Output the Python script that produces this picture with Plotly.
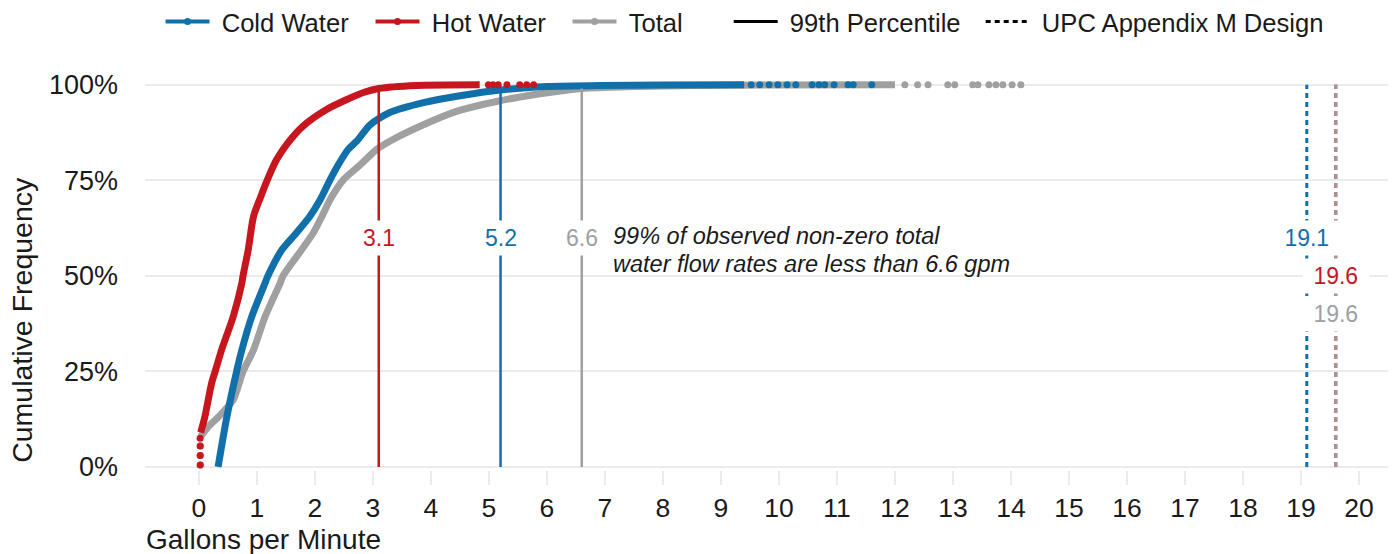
import plotly.graph_objects as go

# ---------------- data ----------------
hot_x = [0.03, 0.10, 0.22, 0.28, 0.39, 0.59, 0.74, 0.76, 0.85, 0.94, 1.06, 1.19, 1.34, 1.53,
         1.79, 2.20, 2.55, 2.85, 3.10, 3.75, 4.84]
hot_y = [0.09, 0.13, 0.22, 0.25, 0.306, 0.393, 0.481, 0.50, 0.568, 0.655, 0.705, 0.755, 0.804,
         0.847, 0.891, 0.935, 0.961, 0.980, 0.990, 0.998, 1.0]
hot_start_x = [0.02, 0.02, 0.02, 0.02]
hot_start_y = [0.005, 0.03, 0.055, 0.075]
hot_tail_x = [4.99, 5.07, 5.16, 5.31, 5.53, 5.65, 5.77]

cold_x = [0.33, 0.48, 0.65, 0.74, 0.91, 1.14, 1.19, 1.43, 1.68, 1.91, 2.09, 2.26, 2.40, 2.57,
          2.72, 2.95, 3.29, 3.87, 4.50, 5.20, 6.00, 6.91, 8.0, 9.4]
cold_y = [0.0, 0.13, 0.25, 0.306, 0.393, 0.481, 0.50, 0.568, 0.612, 0.655, 0.699, 0.751, 0.79,
          0.83, 0.852, 0.895, 0.927, 0.953, 0.971, 0.986, 0.995, 0.998, 0.999, 1.0]
cold_tail_x = [9.52, 9.67, 9.83, 9.98, 10.14, 10.29, 10.57, 10.69, 10.79, 10.95, 11.19, 11.28, 11.6]

total_x = [0.03, 0.16, 0.33, 0.59, 0.76, 0.94, 1.14, 1.40, 1.45, 1.77, 1.97, 2.12, 2.26, 2.49,
           2.78, 3.06, 3.29, 3.87, 4.44, 5.13, 5.88, 6.6, 7.5, 8.5, 10.0, 12.0]
total_y = [0.08, 0.105, 0.13, 0.175, 0.25, 0.306, 0.393, 0.481, 0.50, 0.568, 0.612, 0.655, 0.699,
           0.751, 0.79, 0.83, 0.852, 0.895, 0.930, 0.956, 0.976, 0.99, 0.995, 0.998, 0.999, 1.0]
total_start_x = [0.03, 0.03, 0.03]
total_start_y = [0.005, 0.03, 0.055]
total_tail_x = [12.17, 12.39, 12.57, 12.91, 13.03, 13.34, 13.43, 13.62, 13.74, 13.86, 14.02, 14.17]

series_names = ["Cold Water", "Hot Water", "Total"]
pct99 = {"Cold Water": 5.2, "Hot Water": 3.1, "Total": 6.6}
upc_design = {"Cold Water": 19.1, "Hot Water": 19.6, "Total": 19.6}
pct_level = 0.99
pct_label_y = 0.6
upc_label_y = {"Cold Water": 0.6, "Hot Water": 0.5, "Total": 0.4}
note_lines = ["99% of observed non-zero total", "water flow rates are less than 6.6 gpm"]
note_x = 7.12
note_y = [0.604, 0.530]

x_ticks = list(range(0, 21))
y_ticks = [0, 0.25, 0.5, 0.75, 1.0]
y_ticklabels = ["0%", "25%", "50%", "75%", "100%"]

# ---------------- styles ----------------
COL = {"Cold Water": "#1170AA", "Hot Water": "#C8161E", "Total": "#A0A0A0"}
FONT = "Liberation Sans, Arial, sans-serif"
GRID = "#EBEBEB"
TXT = "#1A1A1A"
CURVE_W = 7
DOT = 7
LEG_W = {"Cold Water": 151, "Hot Water": 138, "Total": 80,
         "99th Percentile": 193, "UPC Appendix M Design": 295}

fig = go.Figure()

def curve(x, y, color):
    fig.add_trace(go.Scatter(x=x, y=y, mode="lines",
                             line=dict(color=color, width=CURVE_W, shape="spline", smoothing=0.7),
                             showlegend=False, hoverinfo="skip", cliponaxis=False))

def dots(x, y, color):
    fig.add_trace(go.Scatter(x=x, y=y, mode="markers", marker=dict(color=color, size=DOT),
                             showlegend=False, hoverinfo="skip", cliponaxis=False))

# Total (bottom), Cold, Hot (top)
curve(total_x, total_y, COL["Total"])
dots(total_start_x, total_start_y, COL["Total"])
dots(total_tail_x, [1.0] * len(total_tail_x), COL["Total"])

curve(cold_x, cold_y, COL["Cold Water"])
dots(cold_tail_x, [1.0] * len(cold_tail_x), COL["Cold Water"])

curve(hot_x, hot_y, COL["Hot Water"])
dots(hot_start_x, hot_start_y, COL["Hot Water"])
dots(hot_tail_x, [1.0] * len(hot_tail_x), COL["Hot Water"])

# 99th percentile solid lines
for name in ["Hot Water", "Cold Water", "Total"]:
    v = pct99[name]
    fig.add_trace(go.Scatter(x=[v, v], y=[0, pct_level], mode="lines",
                             line=dict(color=COL[name], width=2.5),
                             showlegend=False, hoverinfo="skip"))
    fig.add_annotation(x=v, y=pct_label_y, text=f"{v:.1f}", showarrow=False,
                       font=dict(family=FONT, size=23, color=COL[name]),
                       bgcolor="white", borderpad=4, xanchor="center", yanchor="middle")

# UPC design dotted lines
for name in ["Cold Water", "Hot Water", "Total"]:
    v = upc_design[name]
    fig.add_trace(go.Scatter(x=[v, v], y=[0, 1], mode="lines",
                             line=dict(color=COL[name], width=3, dash="5px,4px"),
                             opacity=0.95 if name == "Total" else 1.0,
                             showlegend=False, hoverinfo="skip"))
for name in ["Cold Water", "Hot Water", "Total"]:
    v = upc_design[name]
    fig.add_annotation(x=v, y=upc_label_y[name], text=f"&nbsp;{v:.1f}&nbsp;", showarrow=False,
                       font=dict(family=FONT, size=23, color=COL[name]),
                       bgcolor="white", borderpad=4, xanchor="center", yanchor="middle")

for line, yy in zip(note_lines, note_y):
    fig.add_annotation(x=note_x, y=yy, text=f"<i>{line}</i>", showarrow=False,
                       font=dict(family=FONT, size=23.5, color=TXT), borderpad=0,
                       xanchor="left", yanchor="middle")

# legend entries
for name in series_names:
    fig.add_trace(go.Scatter(x=[None], y=[None], mode="lines+markers", name="&nbsp;" + name,
                             line=dict(color=COL[name], width=4),
                             marker=dict(color=COL[name], size=7), legend="legend",
                             legendwidth=LEG_W[name]))
fig.add_trace(go.Scatter(x=[None], y=[None], mode="lines", name="&nbsp;99th Percentile",
                         line=dict(color="black", width=3), legend="legend2",
                         legendwidth=LEG_W["99th Percentile"]))
fig.add_trace(go.Scatter(x=[None], y=[None], mode="lines", name="&nbsp;UPC Appendix M Design",
                         line=dict(color="black", width=3, dash="5px,4px"), legend="legend2",
                         legendwidth=LEG_W["UPC Appendix M Design"]))

# axis titles (left / bottom aligned like the reference)
fig.add_annotation(xref="paper", yref="paper", x=0, y=-0.178, text="Gallons per Minute",
                   showarrow=False, xanchor="left", yanchor="middle", borderpad=0,
                   font=dict(family=FONT, size=28, color=TXT))
fig.add_annotation(xref="paper", yref="paper", x=-0.099, y=0.013, text="Cumulative Frequency",
                   showarrow=False, textangle=-90, xanchor="center", yanchor="bottom",
                   font=dict(family=FONT, size=28.5, color=TXT))

fig.update_layout(
    width=1400, height=554,
    margin=dict(l=145, r=12, t=77, b=84, autoexpand=False),
    plot_bgcolor="white", paper_bgcolor="white",
    font=dict(family=FONT, size=25, color=TXT),
    legend=dict(orientation="h", x=0.0125, xanchor="left", y=1.14, yanchor="middle",
                font=dict(family=FONT, size=25.6, color=TXT), itemwidth=44,
                bgcolor="rgba(0,0,0,0)"),
    legend2=dict(orientation="h", x=0.4696, xanchor="left", y=1.14, yanchor="middle",
                 font=dict(family=FONT, size=25.6, color=TXT), itemwidth=44,
                 bgcolor="rgba(0,0,0,0)"),
    xaxis=dict(range=[-0.93, 20.5], tickvals=x_ticks, ticktext=[str(t) for t in x_ticks],
               showgrid=False, zeroline=False, showline=False,
               ticks="outside", ticklen=14, tickwidth=2, tickcolor=GRID,
               ticklabelstandoff=0, tickfont=dict(family=FONT, size=26.5, color=TXT)),
    yaxis=dict(range=[-0.008, 1.02], tickvals=y_ticks, ticktext=y_ticklabels,
               showgrid=True, gridcolor=GRID, gridwidth=2, zeroline=False, showline=False,
               ticks="", ticklabelstandoff=26, tickfont=dict(family=FONT, size=27, color=TXT)),
)

fig.write_html("out.html")
